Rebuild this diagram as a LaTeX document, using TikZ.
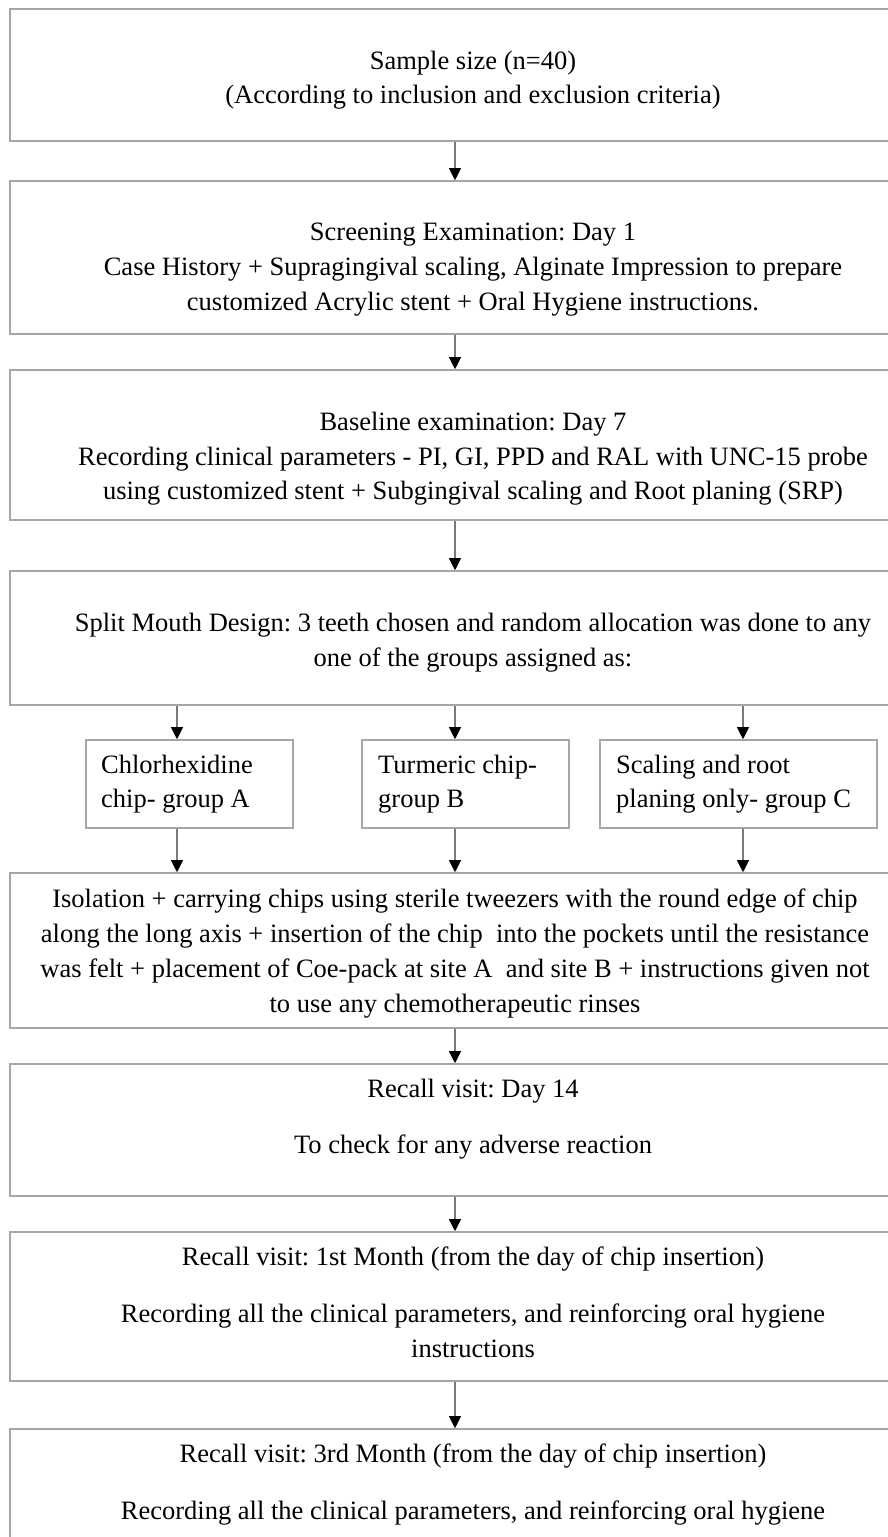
\documentclass[tikz,border=0pt]{standalone}
\usepackage{fontspec}
\setmainfont{Liberation Serif}
\usetikzlibrary{arrows.meta}
\definecolor{boxgray}{HTML}{A6A6A6}
\definecolor{arrgray}{HTML}{7A7A7A}
\frenchspacing
\begin{document}
\frenchspacing
\begin{tikzpicture}[x=1pt,y=-1pt,
  bigbox/.style={draw=boxgray,line width=1.6pt,inner sep=0pt,minimum width=926pt},
  smallbox/.style={draw=boxgray,line width=1.6pt,inner sep=0pt,minimum height=88pt},
  txt/.style={anchor=base,inner sep=0pt,font=\fontsize{26.5}{34.5}\selectfont\frenchspacing,text=black},
  ltxt/.style={txt,anchor=base west},
  arr/.style={draw=arrgray,line width=1.1pt,-{Triangle[width=12pt,length=12pt,color=black]}}]
\useasboundingbox (0,0) rectangle (888,1537);
\clip (0,0) rectangle (888,1537);
\fill[white] (0,0) rectangle (888,1537);
% boxes
\node[bigbox,minimum height=132pt] (b1) at (473,75) {};
\node[bigbox,minimum height=153pt] (b2) at (473,257.5) {};
\node[bigbox,minimum height=150pt] (b3) at (473,445) {};
\node[bigbox,minimum height=134pt] (b4) at (473,638) {};
\node[smallbox,minimum width=207pt] (sA) at (189.5,784) {};
\node[smallbox,minimum width=207pt] (sB) at (465.5,784) {};
\node[smallbox,minimum width=277pt] (sC) at (738.5,784) {};
\node[bigbox,minimum height=155pt] (b5) at (473,950.5) {};
\node[bigbox,minimum height=132pt] (b6) at (473,1130) {};
\node[bigbox,minimum height=149pt] (b7) at (473,1306.5) {};
\node[bigbox,minimum height=151pt] (b8) at (473,1504.5) {};
% texts
\node[txt] (t1a) at (473,69) {Sample size (n=40)};
\node[txt] (t1b) at (473,103) {(According to inclusion and exclusion criteria)};
\node[txt] (t2a) at (473,240) {Screening Examination: Day 1};
\node[txt] (t2b) at (473,275) {Case History + Supragingival scaling, Alginate Impression to prepare};
\node[txt] (t2c) at (473,310) {customized Acrylic stent + Oral Hygiene instructions.};
\node[txt] (t3a) at (473,430) {Baseline examination: Day 7};
\node[txt] (t3b) at (473,465) {Recording clinical parameters - PI, GI, PPD and RAL with UNC-15 probe};
\node[txt] (t3c) at (473,499) {using customized stent + Subgingival scaling and Root planing (SRP)};
\node[txt] (t4a) at (473,631) {Split Mouth Design: 3 teeth chosen and random allocation was done to any};
\node[txt] (t4b) at (473,666) {one of the groups assigned as:};
\node[ltxt] (tAa) at (101,773) {Chlorhexidine};
\node[ltxt] (tAb) at (101,807) {chip- group A};
\node[ltxt] (tBa) at (378,773) {Turmeric chip-};
\node[ltxt] (tBb) at (378,807) {group B};
\node[ltxt] (tCa) at (616,773) {Scaling and root};
\node[ltxt] (tCb) at (616,807) {planing only- group C};
\node[txt] (t5a) at (455,907) {Isolation + carrying chips using sterile tweezers with the round edge of chip};
\node[txt] (t5b) at (455,942) {along the long axis + insertion of the chip\ \ into the pockets until the resistance};
\node[txt] (t5c) at (455,977) {was felt + placement of Coe-pack at site A\ \ and site B + instructions given not};
\node[txt] (t5d) at (455,1012) {to use any chemotherapeutic rinses};
\node[txt] (t6a) at (473,1097) {Recall visit: Day 14};
\node[txt] (t6b) at (473,1153) {To check for any adverse reaction};
\node[txt] (t7a) at (473,1265) {Recall visit: 1st Month (from the day of chip insertion)};
\node[txt] (t7b) at (473,1322) {Recording all the clinical parameters, and reinforcing oral hygiene};
\node[txt] (t7c) at (473,1357) {instructions};
\node[txt] (t8a) at (473,1462) {Recall visit: 3rd Month (from the day of chip insertion)};
\node[txt] (t8b) at (473,1519) {Recording all the clinical parameters, and reinforcing oral hygiene};
% arrow columns
\coordinate (cM) at (455,0);
\coordinate (cA) at (177,0);
\coordinate (cC) at (743,0);
% connectors
\draw[arr] (b1.south -| cM) -- (b2.north -| cM);
\draw[arr] (b2.south -| cM) -- (b3.north -| cM);
\draw[arr] (b3.south -| cM) -- (b4.north -| cM);
\draw[arr] (b4.south -| cA) -- (sA.north -| cA);
\draw[arr] (b4.south -| cM) -- (sB.north -| cM);
\draw[arr] (b4.south -| cC) -- (sC.north -| cC);
\draw[arr] (sA.south -| cA) -- (b5.north -| cA);
\draw[arr] (sB.south -| cM) -- (b5.north -| cM);
\draw[arr] (sC.south -| cC) -- (b5.north -| cC);
\draw[arr] (b5.south -| cM) -- (b6.north -| cM);
\draw[arr] (b6.south -| cM) -- (b7.north -| cM);
\draw[arr] (b7.south -| cM) -- (b8.north -| cM);
\end{tikzpicture}
\end{document}
